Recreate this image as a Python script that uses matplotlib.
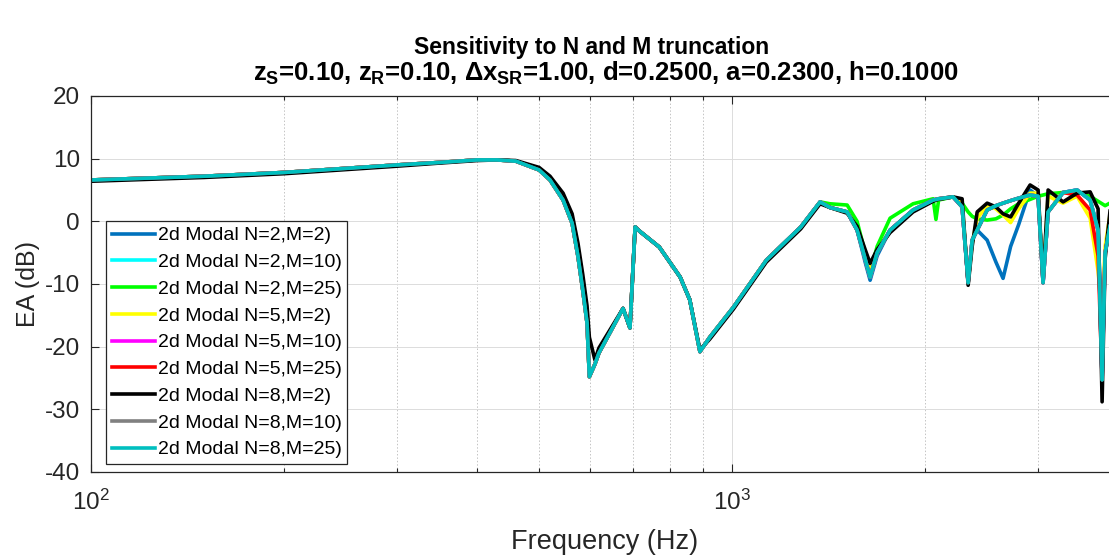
import matplotlib
matplotlib.use('Agg')
import matplotlib.pyplot as plt
from matplotlib.ticker import LogLocator, NullFormatter

plt.rcParams['font.family'] = ['Liberation Sans', 'DejaVu Sans']
plt.rcParams['axes.unicode_minus'] = False
plt.rcParams['mathtext.fontset'] = 'custom'
plt.rcParams['mathtext.rm'] = 'Liberation Sans:bold'
plt.rcParams['mathtext.it'] = 'Liberation Sans:bold'
plt.rcParams['mathtext.bf'] = 'Liberation Sans:bold'

# low band: all curves nearly identical (N=8,M=2 slightly shifted)
freq_lo = [100, 150, 200, 300, 350, 400, 430, 460, 500, 520, 545, 563, 575, 585, 594,
           599, 611, 620, 676, 693, 706, 718, 770, 830, 859, 891, 923, 1005, 1131]
ea_lo_common = [6.6, 7.2, 7.8, 9.0, 9.4, 9.8, 9.8, 9.6, 8.2, 6.6, 3.4, -0.3, -5.6, -11.0, -16.2,
                -24.8, -22.8, -21.0, -13.9, -17.0, -0.9, -1.6, -4.1, -8.9, -12.5, -20.8, -18.5, -13.7, -6.2]
ea_lo_n8m2 = [6.4, 7.0, 7.6, 8.8, 9.3, 9.7, 9.8, 9.7, 8.6, 7.2, 4.5, 1.2, -3.5, -8.5, -13.5,
              -18.5, -22.1, -20.2, -13.9, -17.0, -0.9, -1.6, -4.1, -8.9, -12.5, -20.5, -18.8, -14.0, -6.5]

# high band: curves split apart
freq_hi = [1280, 1372, 1422, 1512, 1567, 1613, 1642, 1684, 1764, 1916, 2059, 2080, 2100, 2212,
           2285, 2335, 2369, 2412, 2500, 2580, 2647, 2720, 2800, 2917, 3002, 3056, 3112, 3284,
           3453, 3619, 3724, 3778, 3819, 3900, 4000]
ea_hi_n8m25 = [-0.9, 3.1, 2.2, 1.5, -1.4, -6.0, -8.9, -5.0, -1.4, 1.8, 3.4, 3.5, 3.6, 3.9,
               2.3, -9.8, -3.0, -1.4, 1.8, 2.5, 2.9, 3.3, 3.7, 4.2, 4.0, -9.8, 1.5, 4.6,
               5.0, 3.4, -1.4, -25.3, -5.0, 0.0, 2.0]
ea_hi_n2m2 = [-0.9, 3.1, 2.2, 1.5, -1.4, -6.5, -9.4, -5.5, -1.4, 1.8, 3.4, 3.5, 3.6, 3.9,
              2.3, -9.8, -3.0, -1.4, -3.0, -6.5, -9.1, -4.0, -0.5, 5.0, 4.0, -9.8, 1.5, 4.6,
              5.0, 3.4, -1.4, -20.0, -5.0, 0.0, 2.0]
ea_hi_n2m25 = [-0.9, 3.1, 2.8, 2.6, 0.0, -5.0, -8.1, -4.0, 0.5, 2.8, 3.6, 0.3, 3.4, 3.9,
               2.9, 1.5, 0.8, 0.4, 0.2, 0.4, 1.0, 2.0, 2.8, 3.5, 4.0, 4.2, 4.4, 4.6,
               4.8, 4.0, 3.2, 2.8, 2.5, 3.0, 2.5]
ea_hi_n5m2 = [-1.0, 3.0, 2.2, 1.4, -1.0, -5.5, -8.0, -4.8, -1.5, 1.7, 3.3, 3.5, 3.6, 3.9,
              3.0, -9.8, -3.5, 0.5, 2.5, 2.0, 1.0, -0.2, 2.0, 4.5, 4.5, -9.5, 4.0, 2.9,
              4.0, 0.5, -8.0, -15.0, -4.0, 2.0, 2.5]
ea_hi_n5m25 = [-0.9, 3.1, 2.2, 1.5, -1.4, -6.0, -8.9, -5.0, -1.4, 1.8, 3.4, 3.5, 3.6, 3.9,
               2.3, -9.8, -3.0, -1.4, 1.8, 2.5, 2.9, 3.3, 3.7, 4.2, 4.0, -9.8, 1.5, 4.6,
               4.2, 1.8, -5.5, -25.0, -5.0, 0.0, 2.0]
ea_hi_n8m2 = [-1.2, 2.8, 2.2, 1.3, -0.8, -4.5, -6.7, -4.5, -1.8, 1.5, 3.2, 3.4, 3.5, 3.9,
              3.6, -10.2, -4.0, 1.5, 2.9, 2.3, 1.2, 0.7, 2.9, 5.8, 5.0, -9.5, 5.0, 3.1,
              4.5, 4.7, 2.0, -28.8, -6.0, 3.1, 3.0]

labels = ['2d Modal N=2,M=2)', '2d Modal N=2,M=10)', '2d Modal N=2,M=25)',
          '2d Modal N=5,M=2)', '2d Modal N=5,M=10)', '2d Modal N=5,M=25)',
          '2d Modal N=8,M=2)', '2d Modal N=8,M=10)', '2d Modal N=8,M=25)']
colors = ['#0072BD', '#00FFFF', '#00FF00', '#FFFF00', '#FF00FF', '#FF0000',
          '#000000', '#808080', '#00BFBF']
lo_data = [ea_lo_common, ea_lo_common, ea_lo_common, ea_lo_common, ea_lo_common,
           ea_lo_common, ea_lo_n8m2, ea_lo_common, ea_lo_common]
hi_data = [ea_hi_n2m2, ea_hi_n8m25, ea_hi_n2m25, ea_hi_n5m2, ea_hi_n8m25,
           ea_hi_n5m25, ea_hi_n8m2, ea_hi_n8m25, ea_hi_n8m25]

fig = plt.figure(figsize=(11.09, 5.55), dpi=100)
ax = fig.add_axes([91 / 1109, 1 - 472 / 555, 1027 / 1109, 376 / 555])

for lab, col, lo, hi in zip(labels, colors, lo_data, hi_data):
    ax.plot(freq_lo + freq_hi, lo + hi, color=col, lw=2.6, label=lab)

ax.set_xscale('log')
ax.set_xlim(100, 4000)
ax.set_ylim(-40, 20)
ax.set_yticks(range(-40, 21, 10))
ax.xaxis.set_minor_locator(LogLocator(base=10, subs=range(2, 10)))
ax.xaxis.set_minor_formatter(NullFormatter())

axc = '#262626'
ax.grid(which='major', color='#dcdcdc', lw=0.7, ls='-')
ax.grid(which='minor', axis='x', color='#c4c4c4', lw=0.7, ls=(0, (1.5, 2)))
ax.set_axisbelow(True)
for s in ax.spines.values():
    s.set_color(axc)
    s.set_linewidth(0.9)
ax.tick_params(which='both', direction='in', top=True, right=True, colors=axc,
               labelsize=17.5, width=0.8)
ax.tick_params(which='major', length=6)
ax.tick_params(which='minor', length=3)
ax.tick_params(axis='x', pad=13)
ax.tick_params(axis='y', pad=8)

ax.set_xlabel('Frequency (Hz)', fontsize=19.5, color=axc, labelpad=10)
ax.set_ylabel('EA (dB)', fontsize=18, color=axc, labelpad=3)

fig.text(0.533, 0.915, 'Sensitivity to N and M truncation', ha='center', va='center',
         fontsize=16.5, fontweight='bold', color='black')
fig.text(0.546, 0.868,
         r'$z_S$=0.10, $z_R$=0.10, $\Delta x_{SR}$=1.00, d=0.2500, a=0.2300, h=0.1000',
         ha='center', va='center', fontsize=18.5, fontweight='bold', color='black')

leg = ax.legend(loc='upper left', bbox_to_anchor=(15 / 1027, 251 / 376), borderaxespad=0,
                fontsize=14, labelspacing=0.47, handlelength=2.2, handletextpad=0.15,
                borderpad=0.3, fancybox=False, framealpha=1, edgecolor=axc)
leg.get_frame().set_linewidth(0.9)

fig.savefig('out.png', dpi=100)
